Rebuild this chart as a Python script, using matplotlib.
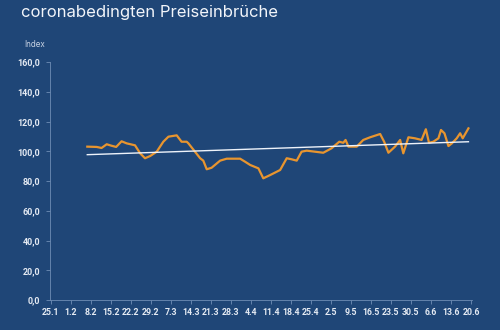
import numpy as np
import matplotlib.pyplot as plt

# Tage seit 25.1. und Indexwerte
days = [12.7, 16.0, 17.7, 19.5, 21.2, 22.8, 24.7, 26.5, 29.4, 31.2, 32.9, 34.7,
        37.0, 39.3, 41.1, 44.0, 45.7, 47.5, 48.1, 50.4, 52.2, 53.3, 54.5, 56.2,
        59.2, 61.5, 66.2, 67.9, 69.7, 72.6, 74.3, 76.7, 80.2, 82.5, 84.2, 86.0,
        87.7, 89.5, 95.3, 98.2, 100.9, 102.3, 103.1, 104.1, 107.0, 109.3, 111.7,
        115.2, 116.6, 118.1, 120.4, 122.2, 123.3, 125.1, 127.4, 129.7, 131.2,
        132.3, 133.8, 135.6, 136.5, 137.7, 139.1, 140.3, 142.0, 143.2, 144.1, 146.1]
index = [103.1, 102.9, 102.2, 104.7, 103.7, 102.9, 106.7, 105.3, 104.0, 98.6, 95.3, 96.8,
         99.7, 106.4, 109.8, 110.7, 106.4, 106.4, 105.3, 99.7, 95.3, 93.7, 87.9, 88.9,
         93.7, 95.0, 95.0, 93.0, 90.8, 88.5, 81.8, 84.0, 87.4, 95.3, 94.6, 93.7,
         99.7, 100.4, 99.0, 102.0, 106.4, 105.7, 107.6, 103.1, 103.1, 107.6, 109.4,
         111.6, 106.4, 99.0, 103.1, 107.6, 98.6, 109.4, 108.7, 107.6, 114.8,
         105.7, 106.4, 108.7, 114.3, 112.1, 103.5, 105.3, 108.7, 112.1, 108.7, 115.4]

trend_days = [12.7, 146.1]
trend_vals = [97.7, 106.4]

tick_labels = ['25.1', '1.2', '8.2', '15.2', '22.2', '29.2', '7.3', '14.3', '21.3',
               '28.3', '4.4', '11.4', '18.4', '25.4', '2.5', '9.5', '16.5', '23.5',
               '30.5', '6.6', '13.6', '20.6']
y_ticks = [0, 20, 40, 60, 80, 100, 120, 140, 160]

bg = '#1f4677'
txt = '#e4eaf3'
axis_col = '#6f8db5'

plt.rcParams['font.family'] = ['Inter', 'DejaVu Sans']

fig = plt.figure(figsize=(5, 3.3), dpi=100, facecolor=bg)
ax = fig.add_axes([0.1, 0.0909, 0.844, 0.7212])
ax.set_facecolor(bg)

ax.plot(days, index, color='#e8952f', lw=1.6, solid_joinstyle='round')
ax.plot(trend_days, trend_vals, color='#eef3fa', lw=1.0)

ax.set_xlim(-0.35, 147.35)
ax.set_ylim(0, 160)
ax.set_xticks(np.arange(len(tick_labels)) * 7)
ax.set_xticklabels(tick_labels)
ax.set_yticks(y_ticks)
ax.set_yticklabels([f'{v},0' for v in y_ticks])

for s in ['top', 'right']:
    ax.spines[s].set_visible(False)
for s in ['left', 'bottom']:
    ax.spines[s].set_color(axis_col)
    ax.spines[s].set_linewidth(0.6)

ax.tick_params(axis='both', colors=axis_col, length=3, width=0.6, labelcolor=txt)
ax.tick_params(axis='y', pad=4, labelsize=6.5)
ax.tick_params(axis='x', pad=3, labelsize=6.3)
for lab in ax.get_xticklabels() + ax.get_yticklabels():
    lab.set_fontfamily(['Roboto', 'DejaVu Sans'])
    lab.set_fontweight('bold')

fig.text(0.048, 0.865, 'Index', color='#c9d4e4', fontsize=5.8, va='center')
fig.text(0.042, 0.985, 'coronabedingten Preiseinbrüche', color='#f2f5fa',
         fontsize=12, va='top', ha='left')

fig.savefig('out.png', dpi=100, facecolor=bg)
